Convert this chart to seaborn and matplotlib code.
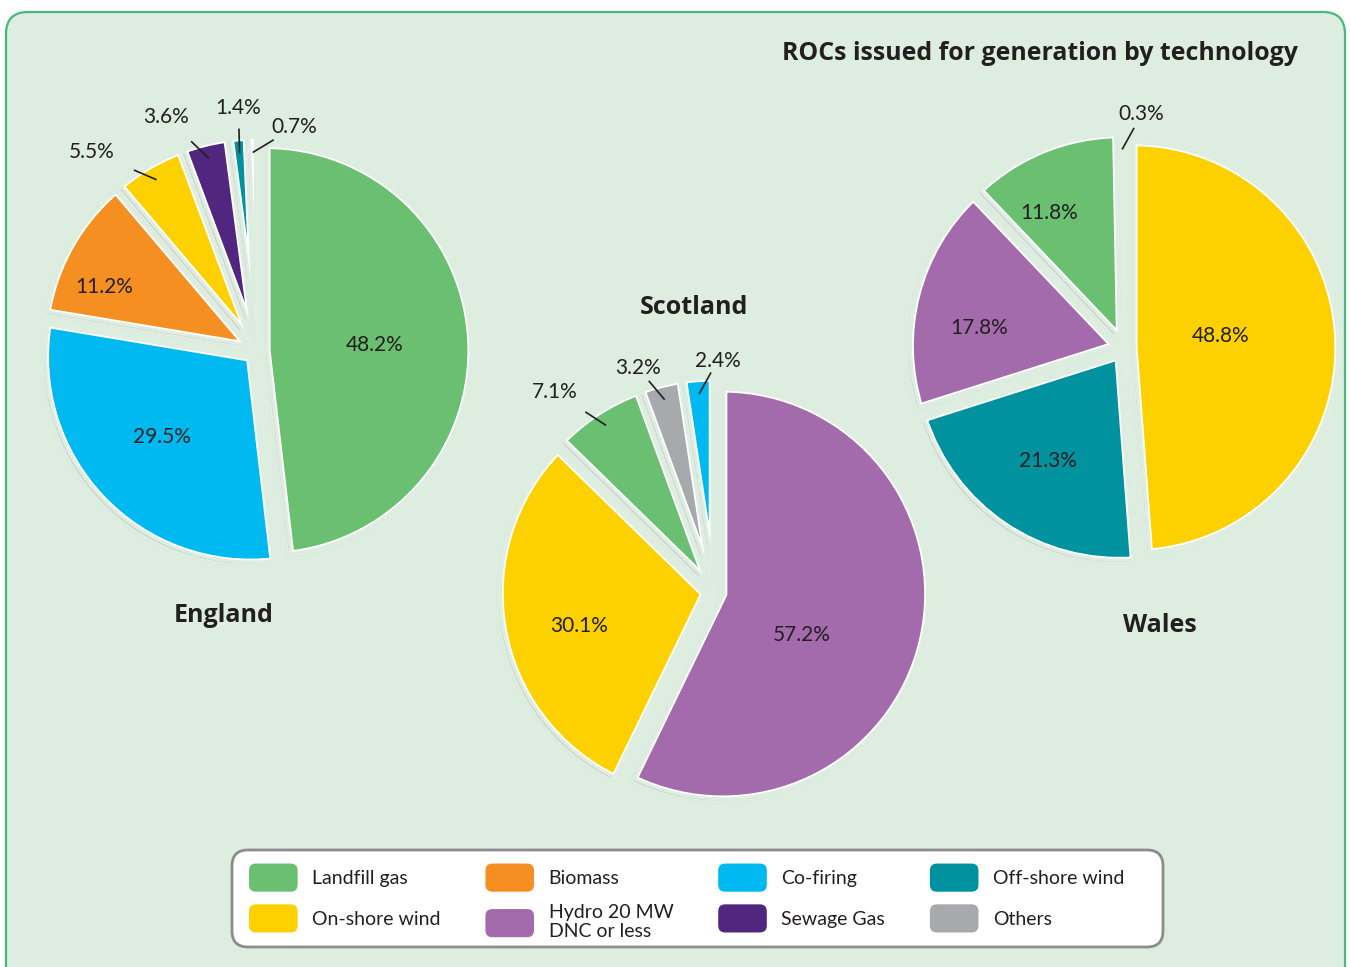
import numpy as np
import matplotlib
matplotlib.use("Agg")
import matplotlib.pyplot as plt
import seaborn as sns
from matplotlib.patches import FancyBboxPatch, Patch
from matplotlib.legend_handler import HandlerPatch

# %% data
technologies = ['Landfill gas', 'On-shore wind', 'Biomass', 'Hydro 20 MW\nDNC or less',
                'Co-firing', 'Sewage Gas', 'Off-shore wind', 'Others']
tech_colors = ['#6abf71', '#fdd000', '#f58f22', '#a36bab',
               '#00b9f1', '#51267f', '#00929f', '#a8a9ac']

england_techs = ['Landfill gas', 'Co-firing', 'Biomass', 'On-shore wind', 'Sewage Gas', 'Off-shore wind', 'Others']
england_pct = [48.2, 29.5, 11.2, 5.5, 3.6, 1.4, 0.7]

scotland_techs = ['Hydro 20 MW\nDNC or less', 'On-shore wind', 'Landfill gas', 'Others', 'Co-firing']
scotland_pct = [57.2, 30.1, 7.1, 3.2, 2.4]

wales_techs = ['On-shore wind', 'Off-shore wind', 'Hydro 20 MW\nDNC or less', 'Landfill gas', 'Others']
wales_pct = [48.8, 21.3, 17.8, 11.8, 0.3]

title = 'ROCs issued for generation by technology'

# %% layout (pixel units, y measured from the top)
W, H = 1351, 967
R = 206
EXPL = 9       # px each wedge is pulled out
GAP = 4        # px of background stroke between wedges
BG = '#ddede0'
pies = [
    # name, techs, values, pie centre, name position
    ('England', england_techs, england_pct, (257, 351), (224, 616)),
    ('Scotland', scotland_techs, scotland_pct, (714, 592), (694, 307)),
    ('Wales', wales_techs, wales_pct, (1124, 348), (1160, 625)),
]
# nudges (px, right / down) for the percentage labels
nudges = {('England', 'Landfill gas'): (16, 0),
          ('England', 'Co-firing'): (4, -8),
          ('England', 'Biomass'): (-16, 14),
          ('England', 'On-shore wind'): (-41, 13),
          ('England', 'Sewage Gas'): (-31, 5),
          ('England', 'Off-shore wind'): (3, 2),
          ('England', 'Others'): (43, 22),
          ('Scotland', 'Hydro 20 MW\nDNC or less'): (-11, 20),
          ('Scotland', 'On-shore wind'): (0, 10),
          ('Scotland', 'Landfill gas'): (-26, 6),
          ('Scotland', 'Others'): (-15, 14),
          ('Scotland', 'Co-firing'): (22, 14),
          ('Wales', 'On-shore wind'): (-5, -8),
          ('Wales', 'Hydro 20 MW\nDNC or less'): (-12, 14),
          ('Wales', 'Landfill gas'): (-15, 11),
          ('Wales', 'Others'): (20, 12)}

color_of = dict(zip(technologies, tech_colors))

sns.set_theme(style='white')
plt.rcParams['font.family'] = ['Lato', 'DejaVu Sans']
bold_font = ['Open Sans', 'DejaVu Sans']

fig = plt.figure(figsize=(W / 100, H / 100), dpi=100)
fig.patch.set_facecolor('white')
ax = fig.add_axes([0, 0, 1, 1])

# panel background
ax.add_patch(FancyBboxPatch((6, -40), W - 12, H - 12 + 40,
                            boxstyle='round,pad=0,rounding_size=22',
                            fc=BG, ec='#45b97c', lw=1.6, zorder=0))


def draw_pie(vals, colors, center, **wp):
    wedges, _ = ax.pie(vals, colors=colors, startangle=90, counterclock=False,
                       explode=[EXPL] * len(vals), radius=R, center=center,
                       wedgeprops=dict(joinstyle='round', **wp))
    for w in wedges:
        w.set_clip_on(True)
        w.set_clip_path(w)
    return wedges


for name, techs, vals, (cx, cy), (nx, ny) in pies:
    n = len(vals)
    cols = [color_of[t] for t in techs]
    # soft grey shadow
    draw_pie(vals, ['#cdd2cf'] * n, (cx - 3, H - cy - 3), edgecolor=BG, linewidth=GAP)
    # coloured wedges with a thin white rim, then background stroke to open the gaps
    wedges = draw_pie(vals, cols, (cx, H - cy), edgecolor='white', linewidth=GAP + 2.6)
    draw_pie(vals, ['none'] * n, (cx, H - cy), edgecolor=BG, linewidth=GAP)
    for w, v, t in zip(wedges, vals, techs):
        mid = np.deg2rad((w.theta1 + w.theta2) / 2)
        ux, uy = np.cos(mid), np.sin(mid)
        x0, y0 = w.center
        dx, dy = nudges.get((name, t), (0, 0))
        lab = f'{v:.1f}%'
        if v >= 8:
            d = 0.45 if v > 40 else (0.72 if v < 15 else 0.62)
            ax.text(x0 + d * R * ux + dx, y0 + d * R * uy - dy, lab, ha='center',
                    va='center', fontsize=15, color='#231f20')
        else:
            tx = x0 + 1.15 * R * ux + dx
            ty = y0 + 1.15 * R * uy - dy
            px, py = x0 + 0.92 * R * ux, y0 + 0.92 * R * uy
            vx, vy = tx - px, ty - py
            L = np.hypot(vx, vy)
            qx, qy = px + 0.12 * R * vx / L, py + 0.12 * R * vy / L
            ax.plot([px, qx], [py, qy], color='#231f20', lw=1.2, solid_capstyle='butt')
            ax.text(tx, ty, lab, ha='center', va='center', fontsize=15, color='#231f20')
    ax.text(nx, H - ny, name, ha='center', va='center', fontsize=18,
            fontweight='bold', color='#231f20', family=bold_font)

ax.text(1298, H - 53, title, ha='right', va='center', fontsize=17.9,
        fontweight='bold', color='#231f20', family=bold_font)

# legend box
ax.add_patch(FancyBboxPatch((232, H - 947), 931, 97,
                            boxstyle='round,pad=0,rounding_size=16',
                            fc='white', ec='#8c8c8c', lw=2, zorder=1))

ax.set_xlim(0, W)
ax.set_ylim(0, H)
ax.set_aspect('auto')
ax.axis('off')


# %% legend with rounded swatches
class RoundHandler(HandlerPatch):
    def create_artists(self, legend, orig_handle, xdescent, ydescent,
                       width, height, fontsize, trans):
        p = FancyBboxPatch((-xdescent, -ydescent), width, height,
                           boxstyle='round,pad=0,rounding_size=5',
                           fc=orig_handle.get_facecolor(), ec='none', transform=trans)
        return [p]


handles = [Patch(facecolor=c) for c in tech_colors]
leg = fig.legend(handles, technologies, ncol=4, loc='center left',
                 bbox_to_anchor=(249 / W, 1 - 902 / H), frameon=False,
                 fontsize=14, handlelength=2.5, handleheight=1.85, handletextpad=0.75,
                 columnspacing=2.3, labelspacing=0.65, borderpad=0, borderaxespad=0,
                 handler_map={Patch: RoundHandler()})
for txt in leg.get_texts():
    txt.set_color('#231f20')
    txt.set_linespacing(1.15)

fig.savefig('out.png', dpi=100, facecolor='white')
